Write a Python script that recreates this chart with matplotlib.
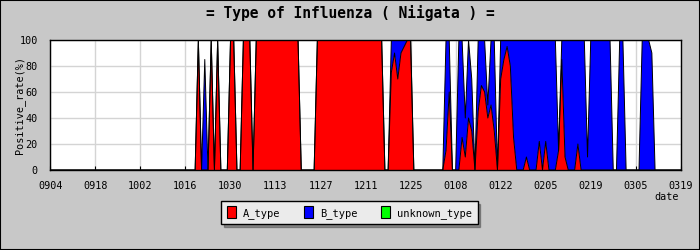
import matplotlib
matplotlib.use('Agg')
import matplotlib.pyplot as plt
import numpy as np
from matplotlib.patches import Patch, Rectangle

# ---- data (day offset from 0904, values in %) ----
tick_labels = ['0904', '0918', '1002', '1016', '1030', '1113', '1127', '1211',
               '1225', '0108', '0122', '0205', '0219', '0305', '0319']
n_days = 197

obs_day = [46, 48, 50, 52, 56, 57, 60, 61, 62,
           64, 65, 66, 67, 68, 69, 70, 71, 72, 73, 74, 75, 76, 77,
           83, 84, 85, 86, 87, 88, 89, 90, 91, 92, 93, 94, 95, 96, 97, 98, 99, 100, 101, 102, 103,
           106, 107, 108, 109, 110, 111, 112,
           123, 124, 127, 128, 129, 130, 131,
           133, 134, 135, 136, 137, 138,
           140, 141, 142, 143, 144, 145, 146, 147, 148, 149, 150, 151, 152, 153, 154, 155, 156, 157,
           158, 159, 160, 161, 162, 163, 164, 165, 166, 167,
           168, 169, 170, 171, 172, 173, 174,
           177, 178,
           184, 185, 186, 187]

a_type = [100, 0, 100, 100, 100, 100, 100, 100, 100,
          100, 100, 100, 100, 100, 100, 100, 100, 100, 100, 100, 100, 100, 100,
          100, 100, 100, 100, 100, 100, 100, 100, 100, 100, 100, 100, 100, 100, 100, 100, 100, 100, 100, 100, 100,
          75, 90, 70, 90, 95, 100, 100,
          15, 60, 0, 25, 10, 40, 30,
          45, 65, 60, 40, 50, 30,
          70, 85, 95, 80, 25, 0, 0, 0, 10, 0, 0, 0, 22, 0, 22, 0, 0, 0,
          15, 85, 10, 0, 0, 0, 20, 0, 0, 0,
          0, 0, 0, 0, 0, 0, 0,
          0, 0,
          0, 0, 0, 0]

b_type = [0, 85, 0, 0, 0, 0, 0, 0, 0,
          0, 0, 0, 0, 0, 0, 0, 0, 0, 0, 0, 0, 0, 0,
          0, 0, 0, 0, 0, 0, 0, 0, 0, 0, 0, 0, 0, 0, 0, 0, 0, 0, 0, 0, 0,
          25, 10, 30, 10, 5, 0, 0,
          85, 40, 100, 75, 30, 60, 40,
          55, 35, 40, 10, 50, 70,
          30, 15, 5, 20, 75, 100, 100, 100, 90, 100, 100, 100, 78, 100, 78, 100, 100, 100,
          0, 15, 90, 100, 100, 100, 80, 100, 100, 10,
          100, 100, 100, 100, 100, 100, 100,
          100, 100,
          100, 100, 100, 90]

unknown_type = [0] * len(obs_day)

# ---- build daily series ----
x = np.arange(n_days)
a_full = np.zeros(n_days)
b_full = np.zeros(n_days)
u_full = np.zeros(n_days)
a_full[obs_day] = a_type
b_full[obs_day] = b_type
u_full[obs_day] = unknown_type

mono = 'DejaVu Sans Mono'
plt.rcParams['font.family'] = mono

fig = plt.figure(figsize=(7, 2.5), dpi=100)
fig.patch.set_facecolor('#c8c8c8')
fig.patches.append(Rectangle((0, 0), 1, 1, transform=fig.transFigure,
                             fill=False, edgecolor='black', linewidth=1.5))

L, R, T, B = 50.4 / 700, 680.8 / 700, 1 - 40 / 250, 1 - 170 / 250
ax = fig.add_axes([L, B, R - L, T - B])
ax.set_facecolor('white')

ax.stackplot(x, a_full, b_full, u_full,
             colors=['#ff0000', '#0000ff', '#00ff00'],
             linewidth=0, zorder=2)
ax.plot(x, a_full, color='black', linewidth=0.7, zorder=3)
ax.plot(x, a_full + b_full + u_full, color='black', linewidth=0.7, zorder=3)

ax.set_xlim(0, n_days - 1)
ax.set_ylim(0, 100)
ticks = np.arange(0, n_days, 14)
ax.set_xticks(ticks)
ax.set_xticklabels(tick_labels, fontsize=7.3)
ax.set_yticks([0, 20, 40, 60, 80, 100])
ax.set_yticklabels(['0', '20', '40', '60', '80', '100'], fontsize=7.3)
ax.tick_params(axis='x', direction='in', length=3, color='black', pad=8)
ax.tick_params(axis='y', length=0, pad=9)
ax.grid(True, color='#d4d4d4', linewidth=1)
ax.set_axisbelow(True)
for s in ax.spines.values():
    s.set_color('black')
    s.set_linewidth(1)
    s.set_zorder(5)

fig.text(0.5, 1 - 13 / 250, '= Type of Influenza ( Niigata ) =',
         ha='center', va='center', fontsize=10.5, fontweight='bold')
fig.text(20 / 700, 1 - 105 / 250, 'Positive_rate(%)', rotation=90,
         ha='center', va='center', fontsize=7.3)
fig.text(679 / 700, 1 - 197 / 250, 'date', ha='right', va='center', fontsize=7.3)

handles = [Patch(facecolor=c, edgecolor='black', linewidth=0.8, label=l)
           for c, l in zip(['#ff0000', '#0000ff', '#00ff00'],
                           ['A_type', 'B_type', 'unknown_type'])]
leg = fig.legend(handles=handles, loc='center', ncol=3,
                 bbox_to_anchor=(349.5 / 700, 1 - 212.5 / 250),
                 fontsize=7.5, frameon=True, fancybox=False, shadow=True,
                 handlelength=0.9, handleheight=1.4, handletextpad=0.7,
                 columnspacing=2.2, borderpad=0.5, borderaxespad=0)
leg.get_frame().set_facecolor('#ebebeb')
leg.get_frame().set_edgecolor('black')
leg.get_frame().set_linewidth(1)

fig.savefig('out.png', dpi=100, facecolor=fig.get_facecolor())
